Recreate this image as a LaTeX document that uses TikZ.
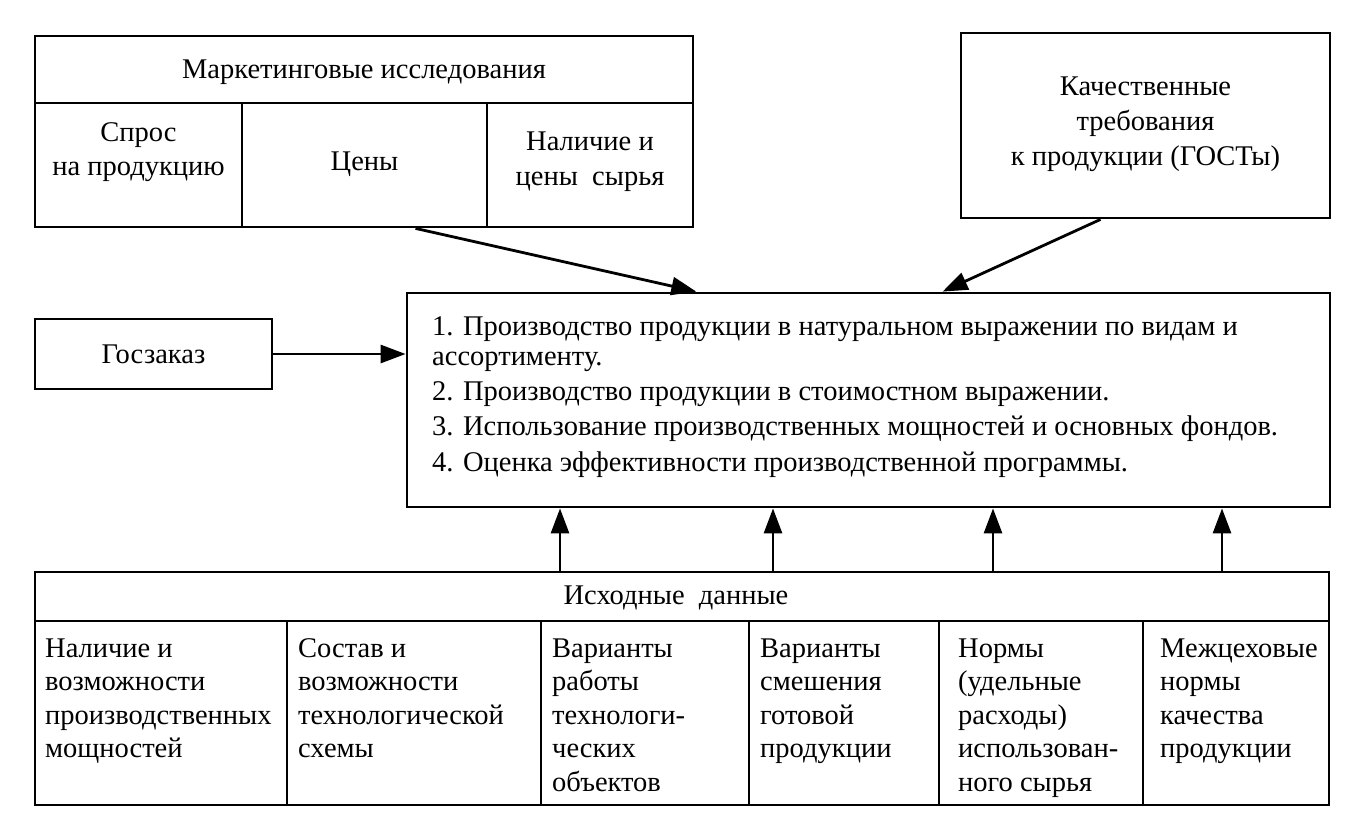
\documentclass[tikz,border=0pt]{standalone}
\usepackage{fontspec}
\setmainfont{Liberation Serif}
\usetikzlibrary{arrows.meta,calc}
\begin{document}
\begin{tikzpicture}[x=1pt,y=-1pt,
  box/.style={draw, line width=2.8pt, rectangle, inner sep=0pt},
  txt/.style={inner sep=0pt, font=\fontsize{28.5}{34}\selectfont},
  arr/.style={line width=2.8pt, -{Triangle[length=25pt,width=18pt]}}]
\useasboundingbox (0,0) rectangle (1357,823);
% Marketing research
\node[box, minimum width=658, minimum height=67] (mh) at (364,69.5) {};
\node[box, minimum width=207, minimum height=124] (m1) at (138.5,165) {};
\node[box, minimum width=245, minimum height=124] (m2) at (364.5,165) {};
\node[box, minimum width=206, minimum height=124] (m3) at (590,165) {};
\node[txt, anchor=base] (tmh) at (364,78) {Маркетинговые исследования};
\node[txt, anchor=base] (tm1a) at (138.5,141) {Спрос};
\node[txt, anchor=base] (tm1b) at (138.5,175) {на продукцию};
\node[txt, anchor=base] (tm2) at (364.5,170) {Цены};
\node[txt, anchor=base] (tm3a) at (590,150) {Наличие и};
\node[txt, anchor=base] (tm3b) at (590,185) {цены\ \ сырья};
% Quality
\node[box, minimum width=369, minimum height=185] (q) at (1145.5,125.5) {};
\node[txt, anchor=base] (tq1) at (1145.5,95) {Качественные};
\node[txt, anchor=base] (tq2) at (1145.5,130) {требования};
\node[txt, anchor=base] (tq3) at (1145.5,165) {к продукции (ГОСТы)};
% Goszakaz
\node[box, minimum width=237, minimum height=70] (g) at (153.5,354) {};
\node[txt, anchor=base] (tg) at (153.5,363) {Госзаказ};
% Main
\node[box, minimum width=923, minimum height=214] (main) at (868.5,400) {};
\node[txt, anchor=base west] (l1) at (432,335) {1. Производство продукции в натуральном выражении по видам и};
\node[txt, anchor=base west] (l2) at (432,365) {ассортименту.};
\node[txt, anchor=base west] (l3) at (432,400) {2. Производство продукции в стоимостном выражении.};
\node[txt, anchor=base west] (l4) at (432,435) {3. Использование производственных мощностей и основных фондов.};
\node[txt, anchor=base west] (l5) at (432,471) {4. Оценка эффективности производственной программы.};
% Bottom
\node[box, minimum width=1294, minimum height=49] (hdr) at (682,596.5) {};
\node[txt, anchor=base] (thdr) at (676,604) {Исходные\ \ данные};
\node[box, minimum width=252, minimum height=184] (c1) at (161,713) {};
\node[box, minimum width=254, minimum height=184] (c2) at (414,713) {};
\node[box, minimum width=208, minimum height=184] (c3) at (645,713) {};
\node[box, minimum width=190, minimum height=184] (c4) at (844,713) {};
\node[box, minimum width=204, minimum height=184] (c5) at (1041,713) {};
\node[box, minimum width=186, minimum height=184] (c6) at (1236,713) {};
\foreach \cx/\nm/\lines in {45/a/{Наличие и,возможности,производственных,мощностей},
  298/b/{Состав и,возможности,технологической,схемы},
  552/c/{Варианты,работы,технологи-,ческих,объектов},
  760/d/{Варианты,смешения,готовой,продукции},
  958/e/{Нормы,{(удельные},{расходы)},использован-,ного сырья},
  1160/f/{Межцеховые,нормы,качества,продукции}}{
  \foreach \ln [count=\i] in \lines {
    \node[txt, anchor=base west] (b\nm\i) at (\cx,{657+33.5*(\i-1)}) {\ln};
  }
}
% Connectors
\draw[arr] ($(m2.south west)!0.706!(m2.south east)$) -- ($(main.north west)!0.314!(main.north east)$);
\draw[arr] ($(q.south west)!0.379!(q.south east)$) -- ($(main.north west)!0.58!(main.north east)$);
\draw[arr] (g.east) -- (g.east -| main.west);
\foreach \ux [count=\k] in {560,773,993,1222}{
  \coordinate (u\k) at (\ux,540);
  \draw[arr] (hdr.north -| u\k) -- (main.south -| u\k);
}
\end{tikzpicture}
\end{document}
